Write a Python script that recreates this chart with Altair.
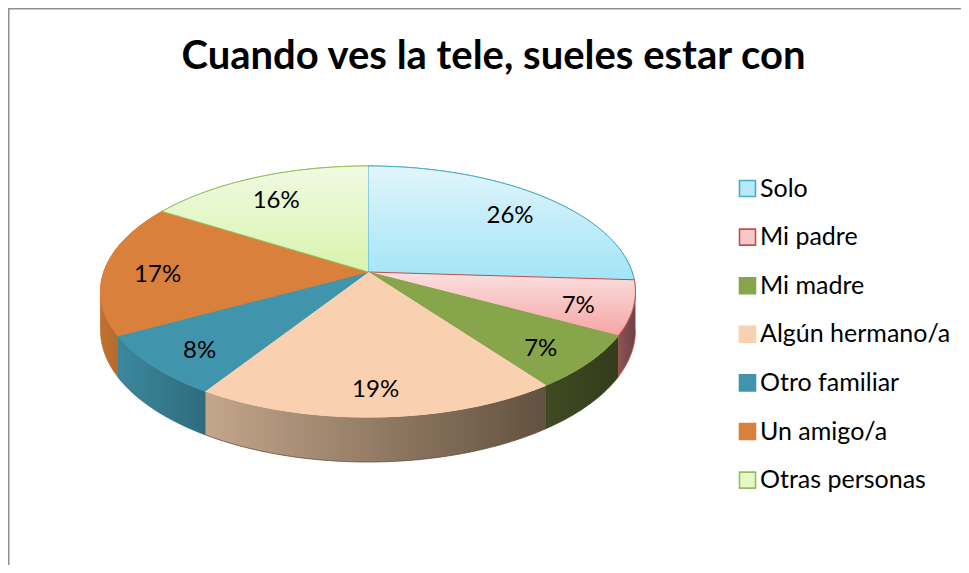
import math
import altair as alt
import pandas as pd

TITLE = "Cuando ves la tele, sueles estar con"
categories = ["Solo", "Mi padre", "Mi madre", "Algún hermano/a",
              "Otro familiar", "Un amigo/a", "Otras personas"]
percent = [26, 7, 7, 19, 8, 17, 16]

# styles
legend_fill = ["#b8e9f8", "#f8c8c8", "#87a54b", "#f9d1b1", "#4095ad", "#d8803c", "#e4f8c8"]
edge_color = ["#4bacc6", "#c0504d", "#87a54b", "#f9d1b1", "#4095ad", "#d8803c", "#9bbb59"]
top_grad_a = ["#e1f5fb", "#fbe0e0", "#87a54b", "#f9d1b1", "#4095ad", "#d8803c", "#f0fae2"]
top_grad_b = ["#a2e5f7", "#f5a5a4", "#87a54b", "#f9d1b1", "#4095ad", "#d8803c", "#d8f4ae"]
wall_grad_a = ["#7fb3c1", "#8e5255", "#3f4a22", "#c4a68b", "#3c889d", "#c0722f", "#a9c58a"]
wall_grad_b = ["#5e96a5", "#6e4144", "#333c1b", "#62513f", "#2e6c7d", "#b56a2e", "#8aa86c"]
wall_edge = ["#4bacc6", "#c0504d", "#333c1b", "#62513f", "#2e6c7d", "#b56a2e", "#9bbb59"]

FONT = "Lato"
W, H = 953, 557
K = 0.1554          # perspective factor
DEPTH = 0.31        # thickness of the pie (in radius units)
N = 60              # points per arc
TH0 = math.acos(-K)  # silhouette angle
LR = 0.8            # label radius

df = pd.DataFrame({"category": categories, "pct": percent, "k": list(range(len(categories)))})

xs = alt.Scale(domain=[-1, 1], range=[95.8, 624.2], nice=False, zero=False)
ys = alt.Scale(domain=[-1, 1], range=[386.5, 141.5], nice=False, zero=False)

base = alt.Chart(df).transform_window(
    cum="sum(pct)", sort=[alt.SortField("k")], frame=[None, 0]
).transform_calculate(
    t2="datum.cum / 100 * 2 * PI",
    t1="(datum.cum - datum.pct) / 100 * 2 * PI",
)


def top_points(ch):
    return ch.transform_calculate(
        idx=f"sequence(0, {N + 2})"
    ).transform_flatten(["idx"]).transform_calculate(
        a=f"datum.t1 + (datum.t2 - datum.t1) * max(datum.idx - 1, 0) / {N}",
        r="datum.idx == 0 ? 0 : 1",
    ).transform_calculate(
        X="datum.r * sin(datum.a)", Z="datum.r * cos(datum.a)"
    ).transform_calculate(
        px=f"datum.X / (1 + {K} * datum.Z)",
        py=f"datum.Z / (1 + {K} * datum.Z)",
    )


legend = alt.Legend(
    title=None, orient="none", legendX=727, legendY=168, symbolType="square",
    symbolSize=256, symbolStrokeWidth=1.6, labelFont=FONT, labelFontSize=25,
    labelColor="black", rowPadding=22.6, labelOffset=0, padding=0, labelLimit=0,
)

# solid top (also provides the legend)
top_solid = top_points(base).mark_line(strokeWidth=1, interpolate="linear").encode(
    x=alt.X("px:Q", scale=xs, axis=None),
    y=alt.Y("py:Q", scale=ys, axis=None),
    order=alt.Order("idx:Q"),
    fill=alt.Fill("category:N", scale=alt.Scale(domain=categories, range=legend_fill),
                  sort=categories, legend=legend),
    stroke=alt.Stroke("category:N", scale=alt.Scale(domain=categories, range=edge_color),
                      sort=categories, legend=legend),
    detail="category:N",
)

walls = []
tops = []
for i, cat in enumerate(categories):
    w = base.transform_filter(alt.datum.category == cat).transform_calculate(
        b1=f"max(datum.t1, {TH0})",
        b2=f"min(datum.t2, {2 * math.pi - TH0})",
    ).transform_filter("datum.b2 > datum.b1").transform_calculate(
        idx=f"sequence(0, {2 * N + 2})"
    ).transform_flatten(["idx"]).transform_calculate(
        a=f"datum.idx <= {N} ? datum.b1 + (datum.b2 - datum.b1) * datum.idx / {N} : datum.b2 - (datum.b2 - datum.b1) * (datum.idx - {N + 1}) / {N}",
    ).transform_calculate(
        X="sin(datum.a)", Z="cos(datum.a)"
    ).transform_calculate(
        px=f"datum.X / (1 + {K} * datum.Z)",
        py=f"(datum.idx <= {N} ? datum.Z : datum.Z - {DEPTH}) / (1 + {K} * datum.Z)",
    ).mark_line(
        strokeWidth=0.8, stroke=wall_edge[i],
        fill=alt.LinearGradient(gradient="linear", x1=0, x2=1, y1=0, y2=0, stops=[
            alt.GradientStop(color=wall_grad_a[i], offset=0),
            alt.GradientStop(color=wall_grad_b[i], offset=1)]),
    ).encode(
        x=alt.X("px:Q", scale=xs, axis=None),
        y=alt.Y("py:Q", scale=ys, axis=None),
        order=alt.Order("idx:Q"),
    )
    walls.append(w)

    t = top_points(base.transform_filter(alt.datum.category == cat)).mark_line(
        strokeWidth=1, stroke=edge_color[i],
        fill=alt.LinearGradient(gradient="linear", x1=0, x2=0, y1=0, y2=1, stops=[
            alt.GradientStop(color=top_grad_a[i], offset=0),
            alt.GradientStop(color=top_grad_b[i], offset=1)]),
    ).encode(
        x=alt.X("px:Q", scale=xs, axis=None),
        y=alt.Y("py:Q", scale=ys, axis=None),
        order=alt.Order("idx:Q"),
    )
    tops.append(t)

labels = base.transform_calculate(
    m="(datum.t1 + datum.t2) / 2"
).transform_calculate(
    X=f"{LR} * sin(datum.m)", Z=f"{LR} * cos(datum.m)"
).transform_calculate(
    px=f"datum.X / (1 + {K} * datum.Z)",
    py=f"datum.Z / (1 + {K} * datum.Z)",
    txt="datum.pct + '%'",
).mark_text(font=FONT, fontSize=24, color="black", dy=6).encode(
    x=alt.X("px:Q", scale=xs, axis=None),
    y=alt.Y("py:Q", scale=ys, axis=None),
    text="txt:N",
)

frame_df = pd.DataFrame({"f": [0]})
left_border = alt.Chart(frame_df).mark_rule(color="#8f8f8f", strokeWidth=1.5).encode(
    x=alt.value(0.75), y=alt.value(0), y2=alt.value(H))
top_border = alt.Chart(frame_df).mark_rule(color="#8f8f8f", strokeWidth=1.5).encode(
    y=alt.value(0.75), x=alt.value(0), x2=alt.value(W))

chart = alt.layer(
    left_border, top_border, *walls, top_solid, *tops, labels
).properties(
    width=W, height=H, padding=0, autosize=alt.AutoSizeParams(type="none"),
    title=alt.TitleParams(TITLE, font=FONT, fontSize=40, fontWeight="bold", color="black",
                          anchor="middle", baseline="alphabetic", dx=9, dy=106),
).configure_view(stroke=None).configure(background="white")

chart.save("out.html", embed_options={"renderer": "svg", "actions": False})
